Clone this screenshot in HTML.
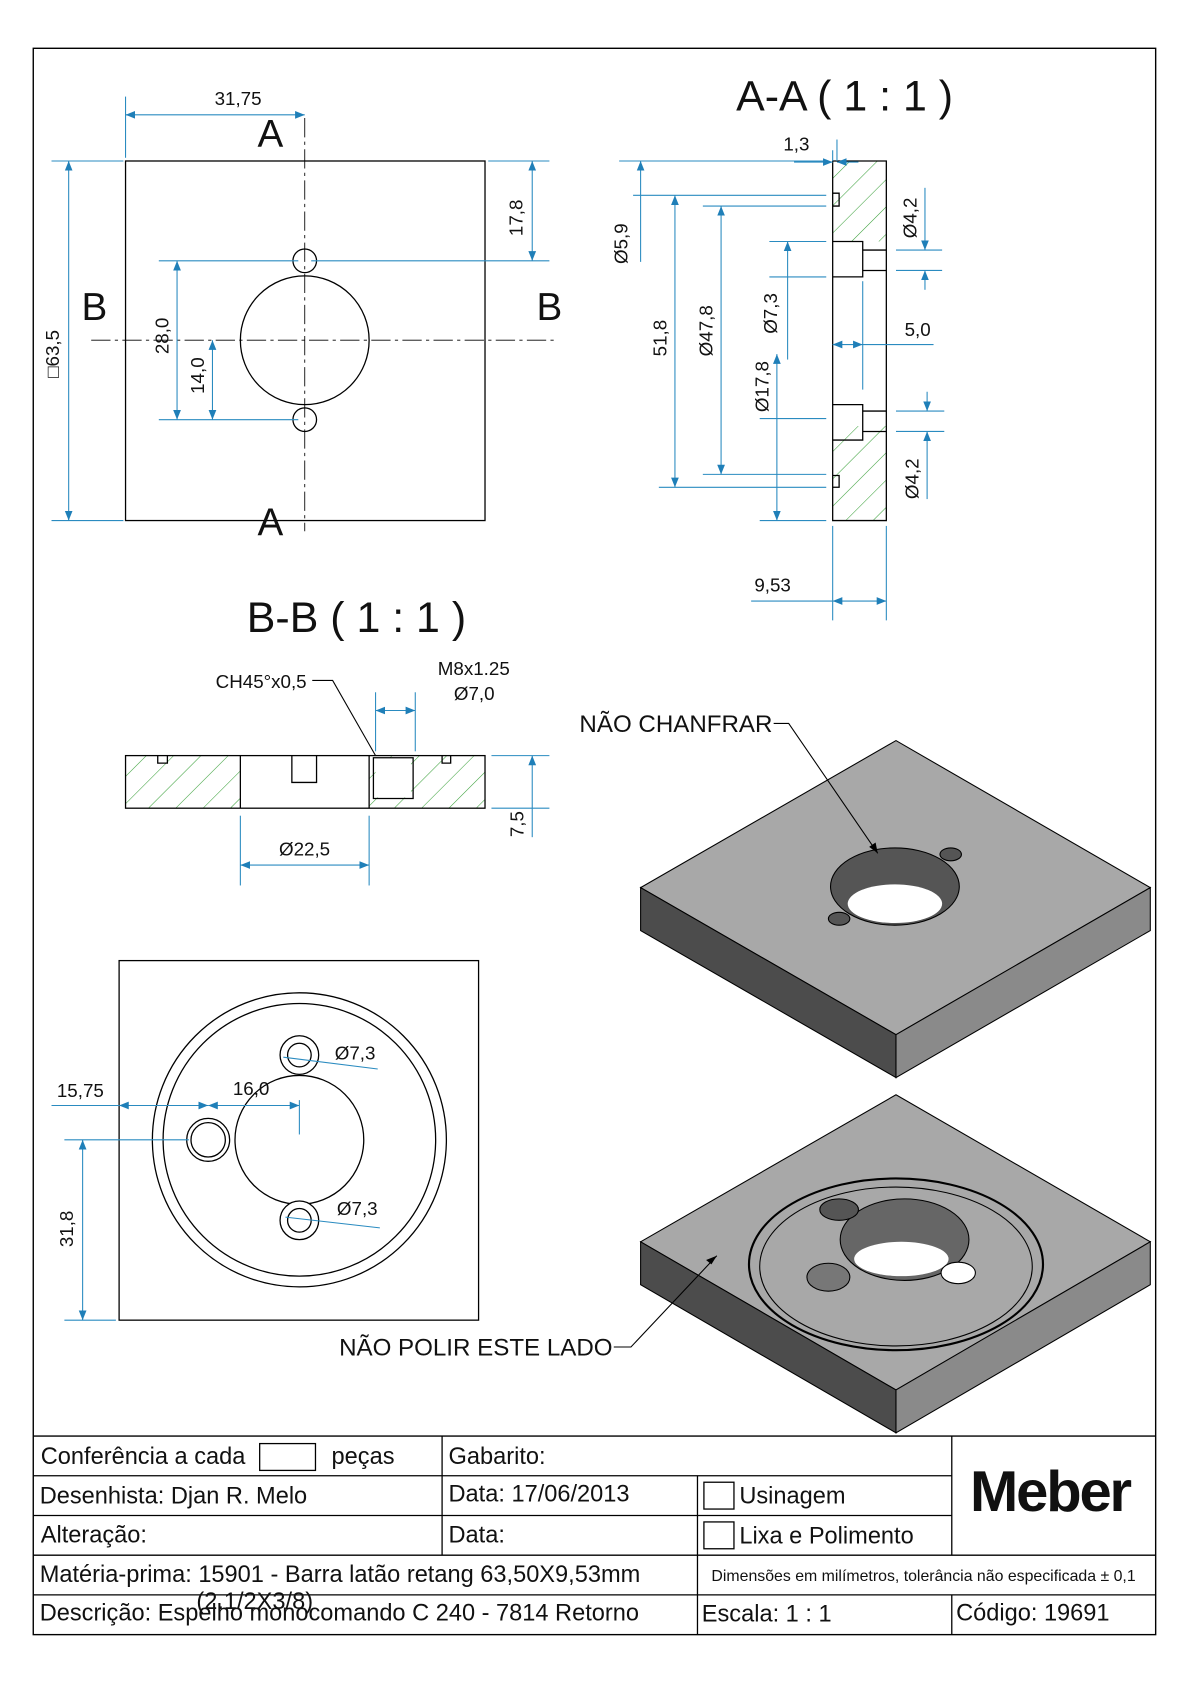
<!DOCTYPE html>
<html><head><meta charset="utf-8"><style>
html,body{margin:0;padding:0;background:#fff}
svg{display:block}
text{font-family:"Liberation Sans",Arial,sans-serif;fill:#111}
.d{stroke:#2a8bc0;stroke-width:1;fill:none}
.k{stroke:#000;stroke-width:1.2;fill:none}
</style></head><body>
<svg width="1190" height="1684" viewBox="0 0 1109 1569" preserveAspectRatio="none" xmlns="http://www.w3.org/2000/svg">
<defs>
<marker id="a" viewBox="0 0 10 10" refX="10" refY="5" markerWidth="9" markerHeight="9" orient="auto-start-reverse"><path d="M0,1 L10,5 L0,9z" fill="#1f7fb8"/></marker>
<pattern id="hat" width="18" height="18" patternUnits="userSpaceOnUse" patternTransform="rotate(45)"><line x1="0" y1="0" x2="0" y2="18" stroke="#3aa03a" stroke-width="1"/></pattern>
</defs>
<rect x="31" y="45" width="1046" height="1478" fill="none" stroke="#000" stroke-width="1.3"/>

<!-- Front view -->
<rect x="117" y="150" width="335" height="335" class="k"/>
<circle cx="284" cy="317" r="60" class="k"/>
<circle cx="284" cy="243" r="11" class="k"/>
<circle cx="284" cy="391" r="11" class="k"/>
<line x1="284" y1="110" x2="284" y2="495" stroke="#000" stroke-width="0.8" stroke-dasharray="18,4,3,4"/>
<line x1="85" y1="317" x2="520" y2="317" stroke="#000" stroke-width="0.8" stroke-dasharray="18,4,3,4"/>
<text x="240" y="137" font-size="36">A</text>
<text x="240" y="499" font-size="36">A</text>
<text x="76" y="298" font-size="36">B</text>
<text x="500" y="298" font-size="36">B</text>
<line x1="117" y1="90" x2="117" y2="147" class="d"/>
<line x1="117" y1="107" x2="284" y2="107" class="d" marker-start="url(#a)" marker-end="url(#a)"/>
<text x="200" y="98" font-size="17.5">31,75</text>
<line x1="48" y1="150" x2="115" y2="150" class="d"/><line x1="48" y1="485" x2="115" y2="485" class="d"/>
<line x1="64" y1="150" x2="64" y2="485" class="d" marker-start="url(#a)" marker-end="url(#a)"/>
<text transform="translate(55,352) rotate(-90)" font-size="17.5">□63,5</text>
<line x1="455" y1="150" x2="512" y2="150" class="d"/><line x1="290" y1="243" x2="512" y2="243" class="d"/>
<line x1="496" y1="150" x2="496" y2="243" class="d" marker-start="url(#a)" marker-end="url(#a)"/>
<text transform="translate(487,220) rotate(-90)" font-size="17.5">17,8</text>
<line x1="148" y1="243" x2="278" y2="243" class="d"/><line x1="148" y1="391" x2="278" y2="391" class="d"/>
<line x1="165" y1="243" x2="165" y2="391" class="d" marker-start="url(#a)" marker-end="url(#a)"/>
<text transform="translate(157,330) rotate(-90)" font-size="17.5">28,0</text>
<line x1="198" y1="317" x2="198" y2="391" class="d" marker-start="url(#a)" marker-end="url(#a)"/>
<text transform="translate(190,367) rotate(-90)" font-size="17.5">14,0</text>

<!-- A-A -->
<text x="686" y="103" font-size="40">A-A ( 1 : 1 )</text>
<rect x="776" y="150" width="50" height="335" fill="url(#hat)"/>
<rect x="776" y="225" width="50" height="172" fill="#fff"/>
<path d="M776,150 H826 V485 H776 Z" class="k"/>
<path d="M776,225 H804 V258 H776 M804,233 H826 M804,252 H826 M776,377 H804 V410 H776 M804,383 H826 M804,402 H826 M776,180 h6 v12 h-6 M776,443 h6 v11 h-6" class="k" stroke-width="1"/>
<line x1="577" y1="150" x2="770" y2="150" class="d"/>
<line x1="597" y1="150" x2="597" y2="244" class="d" marker-start="url(#a)"/>
<line x1="590" y1="182" x2="770" y2="182" class="d"/>
<text transform="translate(585,246) rotate(-90)" font-size="17.5">Ø5,9</text>
<line x1="614" y1="454" x2="770" y2="454" class="d"/>
<line x1="629" y1="182" x2="629" y2="454" class="d" marker-start="url(#a)" marker-end="url(#a)"/>
<text transform="translate(621,332) rotate(-90)" font-size="17.5">51,8</text>
<line x1="655" y1="192" x2="770" y2="192" class="d"/><line x1="655" y1="442" x2="770" y2="442" class="d"/>
<line x1="672" y1="192" x2="672" y2="442" class="d" marker-start="url(#a)" marker-end="url(#a)"/>
<text transform="translate(664,332) rotate(-90)" font-size="17.5">Ø47,8</text>
<line x1="717" y1="225" x2="770" y2="225" class="d"/><line x1="717" y1="258" x2="770" y2="258" class="d"/>
<line x1="734" y1="225" x2="734" y2="335" class="d" marker-start="url(#a)"/>
<text transform="translate(724,311) rotate(-90)" font-size="17.5">Ø7,3</text>
<line x1="708" y1="390" x2="770" y2="390" class="d"/><line x1="708" y1="485" x2="770" y2="485" class="d"/>
<line x1="724" y1="330" x2="724" y2="485" class="d" marker-start="url(#a)" marker-end="url(#a)"/>
<text transform="translate(716,384) rotate(-90)" font-size="17.5">Ø17,8</text>
<line x1="780" y1="130" x2="780" y2="150" class="d"/><line x1="776" y1="140" x2="776" y2="150" class="d"/>
<line x1="740" y1="151" x2="776" y2="151" class="d" marker-end="url(#a)"/><line x1="800" y1="151" x2="780" y2="151" class="d" marker-end="url(#a)"/>
<text x="730" y="140" font-size="17.5">1,3</text>
<line x1="835" y1="233" x2="878" y2="233" class="d"/><line x1="835" y1="252" x2="878" y2="252" class="d"/>
<line x1="862" y1="175" x2="862" y2="233" class="d" marker-end="url(#a)"/><line x1="862" y1="270" x2="862" y2="252" class="d" marker-end="url(#a)"/>
<text transform="translate(854,222) rotate(-90)" font-size="17.5">Ø4,2</text>
<line x1="835" y1="383" x2="880" y2="383" class="d"/><line x1="835" y1="402" x2="880" y2="402" class="d"/>
<line x1="864" y1="365" x2="864" y2="383" class="d" marker-end="url(#a)"/><line x1="864" y1="465" x2="864" y2="402" class="d" marker-end="url(#a)"/>
<text transform="translate(856,465) rotate(-90)" font-size="17.5">Ø4,2</text>
<line x1="804" y1="262" x2="804" y2="363" class="d" stroke-width="0.7"/>
<line x1="776" y1="321" x2="804" y2="321" class="d" marker-start="url(#a)" marker-end="url(#a)"/><line x1="804" y1="321" x2="870" y2="321" class="d"/>
<text x="843" y="313" font-size="17.5">5,0</text>
<line x1="776" y1="490" x2="776" y2="578" class="d"/><line x1="826" y1="490" x2="826" y2="578" class="d"/>
<line x1="700" y1="560" x2="776" y2="560" class="d"/>
<line x1="776" y1="560" x2="826" y2="560" class="d" marker-start="url(#a)" marker-end="url(#a)"/>
<text x="703" y="551" font-size="17.5">9,53</text>

<!-- B-B -->
<text x="230" y="589" font-size="40">B-B ( 1 : 1 )</text>
<rect x="117" y="704" width="107" height="49" fill="url(#hat)"/>
<rect x="344" y="704" width="108" height="49" fill="url(#hat)"/>
<rect x="350" y="706" width="33" height="37" fill="#fff"/>
<rect x="117" y="704" width="335" height="49" class="k"/>
<path d="M224,704 V753 M344,704 V753 M272,704 v25 h23 v-25 M348,706 h37 v38 h-37 z M147,704 v7 h9 v-7 M412,704 v7 h8 v-7" class="k" stroke-width="1"/>
<text x="201" y="641" font-size="17.5">CH45°x0,5</text>
<path d="M291,634 H310 L350,704" stroke="#000" fill="none"/>
<text x="408" y="629" font-size="17.5">M8x1.25</text>
<text x="423" y="652" font-size="17.5">Ø7,0</text>
<line x1="350" y1="645" x2="350" y2="700" class="d"/><line x1="387" y1="645" x2="387" y2="700" class="d"/>
<line x1="350" y1="662" x2="387" y2="662" class="d" marker-start="url(#a)" marker-end="url(#a)"/>
<line x1="458" y1="704" x2="512" y2="704" class="d"/><line x1="458" y1="753" x2="512" y2="753" class="d"/>
<line x1="496" y1="704" x2="496" y2="780" class="d" marker-start="url(#a)"/>
<text transform="translate(488,780) rotate(-90)" font-size="17.5">7,5</text>
<line x1="224" y1="760" x2="224" y2="825" class="d"/><line x1="344" y1="760" x2="344" y2="825" class="d"/>
<line x1="224" y1="806" x2="344" y2="806" class="d" marker-start="url(#a)" marker-end="url(#a)"/>
<text x="260" y="797" font-size="17.5">Ø22,5</text>

<!-- back view -->
<rect x="111" y="895" width="335" height="335" class="k"/>
<circle cx="279" cy="1062" r="137" class="k"/>
<circle cx="279" cy="1062" r="127" class="k"/>
<circle cx="279" cy="1062" r="60" class="k"/>
<circle cx="279" cy="983" r="18" fill="#fff" stroke="#000" stroke-width="1.2"/><circle cx="279" cy="983" r="11" class="k"/>
<circle cx="279" cy="1137" r="18" fill="#fff" stroke="#000" stroke-width="1.2"/><circle cx="279" cy="1137" r="11" class="k"/>
<circle cx="194" cy="1062" r="20" class="k"/><circle cx="194" cy="1062" r="16" class="k"/>
<text x="312" y="987" font-size="17.5">Ø7,3</text><line x1="264" y1="985" x2="352" y2="996" class="d"/>
<text x="314" y="1132" font-size="17.5">Ø7,3</text><line x1="266" y1="1134" x2="354" y2="1144" class="d"/>
<line x1="48" y1="1030" x2="111" y2="1030" class="d"/>
<line x1="111" y1="1030" x2="194" y2="1030" class="d" marker-start="url(#a)" marker-end="url(#a)"/>
<line x1="194" y1="1030" x2="279" y2="1030" class="d" marker-start="url(#a)" marker-end="url(#a)"/>
<line x1="279" y1="1025" x2="279" y2="1057" class="d"/>
<text x="53" y="1022" font-size="17.5">15,75</text><text x="217" y="1020" font-size="17.5">16,0</text>
<line x1="60" y1="1062" x2="176" y2="1062" class="d"/><line x1="60" y1="1230" x2="108" y2="1230" class="d"/>
<line x1="77" y1="1062" x2="77" y2="1230" class="d" marker-start="url(#a)" marker-end="url(#a)"/>
<text transform="translate(68,1162) rotate(-90)" font-size="17.5">31,8</text>

<!-- iso 1 -->
<polygon points="597,827 835,690 1072,827 835,964" fill="#a8a8a8" stroke="#000"/>
<polygon points="597,827 835,964 835,1004 597,867" fill="#4c4c4c" stroke="#000"/>
<polygon points="835,964 1072,827 1072,867 835,1004" fill="#8a8a8a" stroke="#000"/>
<ellipse cx="834" cy="826" rx="60" ry="36" fill="#555" stroke="#000"/>
<ellipse cx="834" cy="842" rx="44" ry="18" fill="#fff"/>
<ellipse cx="886" cy="796" rx="10" ry="6" fill="#555" stroke="#000"/>
<ellipse cx="782" cy="856" rx="10" ry="6" fill="#555" stroke="#000"/>
<text x="540" y="682" font-size="22.5">NÃO CHANFRAR</text>
<path d="M721,674 H735 L818,795" stroke="#000" fill="none"/>
<!-- iso 2 -->
<polygon points="597,1157 835,1020 1072,1157 835,1295" fill="#a8a8a8" stroke="#000"/>
<polygon points="597,1157 835,1295 835,1335 597,1197" fill="#4c4c4c" stroke="#000"/>
<polygon points="835,1295 1072,1157 1072,1197 835,1335" fill="#8a8a8a" stroke="#000"/>
<ellipse cx="835" cy="1178" rx="137" ry="80" fill="none" stroke="#000" stroke-width="2"/>
<ellipse cx="835" cy="1180" rx="127" ry="74" fill="none" stroke="#000"/>
<ellipse cx="843" cy="1155" rx="60" ry="38" fill="#666" stroke="#000"/>
<ellipse cx="840" cy="1173" rx="44" ry="16" fill="#fff"/>
<ellipse cx="782" cy="1127" rx="18" ry="10" fill="#555" stroke="#000"/>
<ellipse cx="893" cy="1186" rx="16" ry="10" fill="#fff" stroke="#000"/>
<ellipse cx="772" cy="1190" rx="20" ry="13" fill="#777" stroke="#000"/>
<text x="316" y="1263" font-size="22.5">NÃO POLIR ESTE LADO</text>
<path d="M572,1255 H588 L668,1170" stroke="#000" fill="none"/>
<path d="M668,1170 l-10,4 l5,4z M818,795 l-2,-10 l-6,4z" fill="#000"/>

<!-- title block -->
<g stroke="#000" stroke-width="1.2" fill="none">
<line x1="31" y1="1338" x2="1077" y2="1338"/>
<line x1="31" y1="1375" x2="887" y2="1375"/>
<line x1="31" y1="1412" x2="887" y2="1412"/>
<line x1="31" y1="1449" x2="1077" y2="1449"/>
<line x1="31" y1="1486" x2="1077" y2="1486"/>
<line x1="412" y1="1338" x2="412" y2="1449"/>
<line x1="650" y1="1375" x2="650" y2="1449"/>
<line x1="650" y1="1449" x2="650" y2="1523"/>
<line x1="887" y1="1338" x2="887" y2="1449"/>
<line x1="887" y1="1486" x2="887" y2="1523"/>
<rect x="242" y="1345" width="52" height="25"/>
<rect x="656" y="1381" width="28" height="25"/>
<rect x="656" y="1418" width="28" height="25"/>
</g>
<g font-size="22">
<text x="38" y="1364">Conferência a cada</text><text x="309" y="1364">peças</text>
<text x="418" y="1364">Gabarito:</text>
<text x="37" y="1401">Desenhista: Djan R. Melo</text>
<text x="418" y="1399">Data: 17/06/2013</text>
<text x="689" y="1401">Usinagem</text>
<text x="38" y="1437">Alteração:</text><text x="418" y="1437">Data:</text>
<text x="689" y="1438">Lixa e Polimento</text>
<text x="37" y="1474">Matéria-prima: 15901 - Barra latão retang 63,50X9,53mm</text>
<text x="37" y="1510">Descrição: Espelho monocomando C 240 - 7814 Retorno</text>
<text x="183" y="1499">(2.1/2X3/8)</text>
<text x="654" y="1511">Escala: 1 : 1</text>
<text x="891" y="1510">Código: 19691</text>
</g>
<text x="663" y="1473" font-size="14.8">Dimensões em milímetros, tolerância não especificada ± 0,1</text>
<text x="904" y="1408" font-size="54" font-weight="bold" letter-spacing="-2">Meber</text>
</svg>
</body></html>
